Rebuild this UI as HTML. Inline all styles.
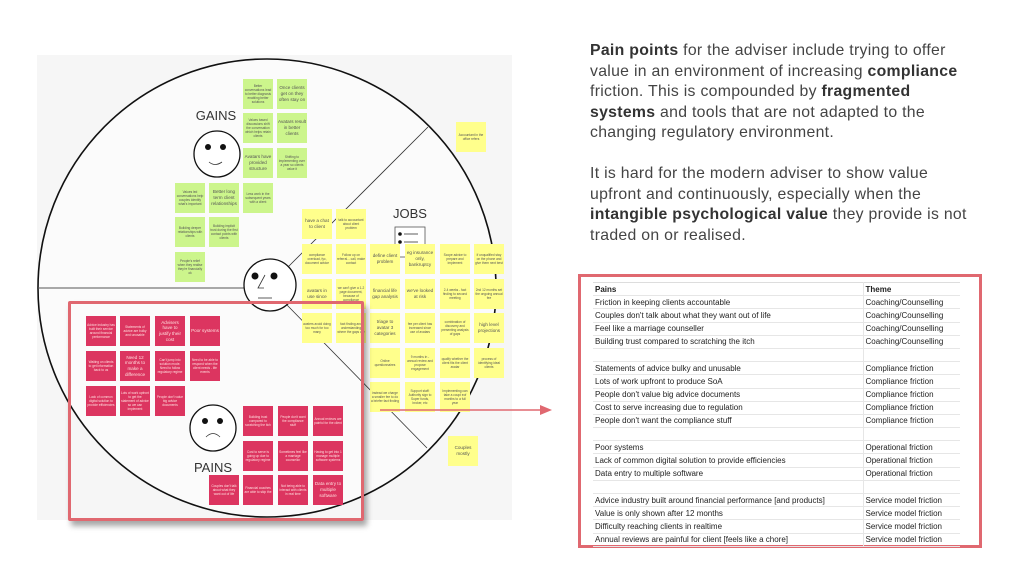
<!DOCTYPE html>
<html><head><meta charset="utf-8"><style>
*{margin:0;padding:0;box-sizing:border-box}
body{width:1024px;height:576px;background:#fff;position:relative;overflow:hidden;font-family:"Liberation Sans",sans-serif}
.s{position:absolute;width:30px;height:30px;display:flex;align-items:center;justify-content:center;text-align:center;font-size:3.2px;line-height:1.25;color:#555;padding:1px;overflow:hidden}
.g{background:#ccf58c}.y{background:#ffff8c}.r{background:#dc3560;color:#fdd}
.b{font-size:4.6px}
.lbl{position:absolute;font-size:13px;color:#333;transform:translateX(-50%)}
#txt{position:absolute;left:590px;top:41px;width:430px;font-size:15.8px;letter-spacing:0.3px;line-height:20.5px;color:#444;white-space:nowrap}
#txt b{color:#333}
#tbl{position:absolute;left:578px;top:274px;width:404px;height:274px;border:3px solid #e06870;background:#fff}
table{position:absolute;left:12px;top:5px;width:367px;border-collapse:collapse;font-size:8px;color:#222}
td{height:13.2px;border-bottom:1px solid #e6e6e6;padding:0 0 0 2px;white-space:nowrap}
td:first-child{width:270px;border-right:1px solid #e6e6e6}
tr:first-child td{font-weight:bold;border-top:1px solid #ddd}
</style></head><body>
<svg width="1024" height="576" style="position:absolute;left:0;top:0">
<rect x="37" y="55" width="475" height="465" fill="#f6f6f6"/>
<circle cx="267" cy="288" r="229" fill="#fbfbfb" stroke="#111" stroke-width="1.6"/>
<line x1="38" y1="288" x2="245" y2="288" stroke="#555" stroke-width="1"/>
<line x1="287" y1="268" x2="428" y2="127" stroke="#333" stroke-width="0.8"/>
<line x1="287" y1="305" x2="427" y2="448" stroke="#333" stroke-width="0.8"/>
<circle cx="217" cy="154" r="23" fill="#fff" stroke="#111" stroke-width="1.3"/>
<circle cx="208" cy="147" r="3" fill="#111"/><circle cx="223" cy="147" r="3" fill="#111"/>
<path d="M209 162 Q215 167 222 162" stroke="#333" fill="none" stroke-width="0.8"/>
<circle cx="270" cy="285" r="26" fill="#fff" stroke="#111" stroke-width="1.3"/>
<circle cx="255" cy="276" r="3.5" fill="#111"/><circle cx="274" cy="276" r="3.5" fill="#111"/>
<path d="M265 275 L258 288 L264 288" stroke="#333" fill="none" stroke-width="0.8"/>
<line x1="258" y1="298" x2="272" y2="298" stroke="#333" stroke-width="0.8"/>
<circle cx="213" cy="428" r="23" fill="#fff" stroke="#111" stroke-width="1.3"/>
<circle cx="205" cy="421" r="3" fill="#111"/><circle cx="220" cy="421" r="3" fill="#111"/>
<path d="M206 437 Q213 430 220 437" stroke="#333" fill="none" stroke-width="0.8"/>
<rect x="395" y="227" width="30" height="30" fill="#fff" stroke="#555" stroke-width="0.8"/>
<circle cx="400" cy="234" r="1.8" fill="#111"/><line x1="404" y1="234" x2="418" y2="234" stroke="#333" stroke-width="0.8"/>
<circle cx="400" cy="242" r="1.8" fill="#111"/><line x1="404" y1="242" x2="418" y2="242" stroke="#333" stroke-width="0.8"/>
</svg>
<div class="lbl" style="left:216px;top:108px">GAINS</div>
<div class="lbl" style="left:410px;top:206px">JOBS</div>
<div class="lbl" style="left:213px;top:460px">PAINS</div>

<div class="s g" style="left:243px;top:79px">Better conversations lead to better diagnosis enabling better solutions</div>
<div class="s g b" style="left:277px;top:79px">Once clients get on they often stay on</div>
<div class="s g" style="left:243px;top:113px">Values based discussions shift the conversation which helps retain clients</div>
<div class="s g b" style="left:277px;top:113px">Avatars result in better clients</div>
<div class="s g b" style="left:243px;top:148px">Avatars have provided structure</div>
<div class="s g" style="left:277px;top:148px">Shifting to implementing over a year so clients value it</div>
<div class="s g" style="left:175px;top:183px">Values led conversations help couples identify what's important</div>
<div class="s g b" style="left:209px;top:183px">Better long term client relationships</div>
<div class="s g" style="left:243px;top:183px">Less work in the subsequent years with a client</div>
<div class="s g" style="left:175px;top:217px">Building deeper relationships with clients</div>
<div class="s g" style="left:209px;top:217px">Building implicit trust during the first contact points with clients</div>
<div class="s g" style="left:175px;top:252px">People's relief when they realise they're financially ok</div>

<div class="s y" style="left:456px;top:122px">Accountant in the office refers</div>
<div class="s y b" style="left:302px;top:209px">have a chat to client</div>
<div class="s y" style="left:336px;top:209px">talk to accountant about client problem</div>
<div class="s y" style="left:302px;top:244px">compliance overload, fyc, document advice</div>
<div class="s y" style="left:336px;top:244px">Follow up on referral... call, make contact</div>
<div class="s y b" style="left:370px;top:244px">define client problem</div>
<div class="s y b" style="left:405px;top:244px">eg insurance only, bankruptcy</div>
<div class="s y" style="left:440px;top:244px">Scope advice to prepare and implement</div>
<div class="s y" style="left:474px;top:244px">if unqualified stay on the phone and give them next best</div>
<div class="s y b" style="left:302px;top:279px">avatars in use since</div>
<div class="s y" style="left:336px;top:279px">we can't give a 1-2 page document, because of compliance</div>
<div class="s y b" style="left:370px;top:279px">financial life gap analysis</div>
<div class="s y b" style="left:405px;top:279px">we've looked at risk</div>
<div class="s y" style="left:440px;top:279px">2-4 weeks - fact finding to second meeting</div>
<div class="s y" style="left:474px;top:279px">2nd 12 months set the ongoing annual fee</div>
<div class="s y" style="left:302px;top:313px">avaters avoid doing too much for too many</div>
<div class="s y" style="left:336px;top:313px">fact finding and understanding where the gaps are</div>
<div class="s y b" style="left:370px;top:313px">triage to avatar 3 categories</div>
<div class="s y" style="left:405px;top:313px">fee per client has increased since use of avatars</div>
<div class="s y" style="left:440px;top:313px">combination of discovery and presenting analysis of gaps</div>
<div class="s y b" style="left:474px;top:313px">high level projections</div>
<div class="s y" style="left:370px;top:348px">Online questionnaires</div>
<div class="s y" style="left:405px;top:348px">9 months in - annual review and propose engagement</div>
<div class="s y" style="left:440px;top:348px">qualify whether the client fits the client avatar</div>
<div class="s y" style="left:474px;top:348px">process of identifying ideal clients</div>
<div class="s y" style="left:370px;top:382px">instead we charge a smaller fee to do a briefer fact finding</div>
<div class="s y" style="left:405px;top:382px">Support staff: Authority sign to Super funds, broker, etc</div>
<div class="s y" style="left:440px;top:382px">Implementing can take a coupl eof months to a full year</div>
<div class="s y b" style="left:448px;top:436px">Couples mostly</div>

<div class="s r" style="left:86px;top:316px">Advice industry has built their service around financial performance</div>
<div class="s r" style="left:120px;top:316px">Statements of advice are bulky and unusable</div>
<div class="s r b" style="left:155px;top:316px">Advisers have to justify their cost</div>
<div class="s r b" style="left:190px;top:316px">Poor systems</div>
<div class="s r" style="left:86px;top:351px">Waiting on clients to get information back to us</div>
<div class="s r b" style="left:120px;top:351px">Need 12 months to make a difference</div>
<div class="s r" style="left:155px;top:351px">Can't jump into solution mode. Need to follow regulatory regime</div>
<div class="s r" style="left:190px;top:351px">Need to be able to respond when the client needs - life events</div>
<div class="s r" style="left:86px;top:386px">Lack of common digital solution to provide efficiencies</div>
<div class="s r" style="left:120px;top:386px">Lots of work upfront to get the statement of advice so we can implement</div>
<div class="s r" style="left:155px;top:386px">People don't value big advice documents</div>
<div class="s r" style="left:243px;top:406px">Building trust compared to scratching the itch</div>
<div class="s r" style="left:278px;top:406px">People don't want the compliance stuff</div>
<div class="s r" style="left:313px;top:406px">Annual reviews are painful for the client</div>
<div class="s r" style="left:243px;top:441px">Cost to serve is going up due to regulatory regime</div>
<div class="s r" style="left:278px;top:441px">Sometimes feel like a marriage counsellor</div>
<div class="s r" style="left:313px;top:441px">Having to get into 1 manage multiple software systems</div>
<div class="s r" style="left:209px;top:475px">Couples don't talk about what they want out of life</div>
<div class="s r" style="left:243px;top:475px">Financial coaches are able to skip the</div>
<div class="s r" style="left:278px;top:475px">Not being able to interact with clients in real time</div>
<div class="s r b" style="left:313px;top:475px">Data entry to multiple software</div>

<div style="position:absolute;left:68px;top:301px;width:296px;height:220px;border:3px solid #e06870;border-radius:2px;box-shadow:3px 5px 6px rgba(0,0,0,0.35)"></div>
<svg width="1024" height="576" style="position:absolute;left:0;top:0">
<line x1="380" y1="410" x2="545" y2="410" stroke="#e06870" stroke-width="1.5"/>
<polygon points="552,410 540,405 540,415" fill="#e06870"/>
</svg>

<div id="txt"><b>Pain points</b> for the adviser include trying to offer<br>value in an environment of increasing <b>compliance</b><br>friction. This is compounded by <b>fragmented</b><br><b>systems</b> and tools that are not adapted to the<br>changing regulatory environment.<br><br>It is hard for the modern adviser to show value<br>upfront and continuously, especially when the<br><b>intangible psychological value</b> they provide is not<br>traded on or realised.</div>

<div id="tbl"><table>
<tr><td>Pains</td><td>Theme</td></tr>
<tr><td>Friction in keeping clients accountable</td><td>Coaching/Counselling</td></tr>
<tr><td>Couples don't talk about what they want out of life</td><td>Coaching/Counselling</td></tr>
<tr><td>Feel like a marriage counseller</td><td>Coaching/Counselling</td></tr>
<tr><td>Building trust compared to scratching the itch</td><td>Coaching/Counselling</td></tr>
<tr><td></td><td></td></tr>
<tr><td>Statements of advice bulky and unusable</td><td>Compliance friction</td></tr>
<tr><td>Lots of work upfront to produce SoA</td><td>Compliance friction</td></tr>
<tr><td>People don't value big advice documents</td><td>Compliance friction</td></tr>
<tr><td>Cost to serve increasing due to regulation</td><td>Compliance friction</td></tr>
<tr><td>People don't want the compliance stuff</td><td>Compliance friction</td></tr>
<tr><td></td><td></td></tr>
<tr><td>Poor systems</td><td>Operational friction</td></tr>
<tr><td>Lack of common digital solution to provide efficiencies</td><td>Operational friction</td></tr>
<tr><td>Data entry to multiple software</td><td>Operational friction</td></tr>
<tr><td></td><td></td></tr>
<tr><td>Advice industry built around financial performance [and products]</td><td>Service model friction</td></tr>
<tr><td>Value is only shown after 12 months</td><td>Service model friction</td></tr>
<tr><td>Difficulty reaching clients in realtime</td><td>Service model friction</td></tr>
<tr><td>Annual reviews are painful for client [feels like a chore]</td><td>Service model friction</td></tr>
</table></div>
</body></html>
